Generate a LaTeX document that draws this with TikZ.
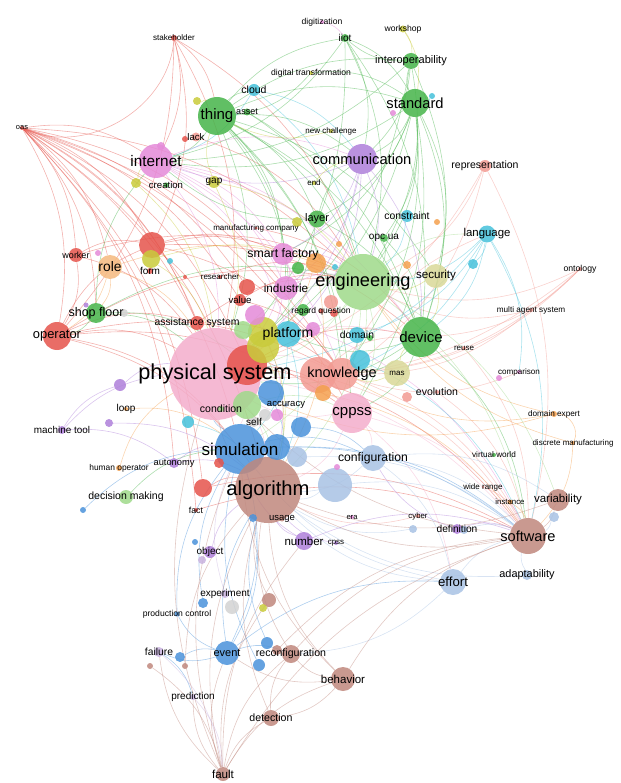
\documentclass[tikz,border=0pt]{standalone}
\usepackage{fontspec}
\setmainfont{Liberation Sans}
\usetikzlibrary{backgrounds}
\definecolor{kwred}      {HTML}{E5534B}
\definecolor{kwsalmon}   {HTML}{F29A92}
\definecolor{kwgreen}    {HTML}{45B449}
\definecolor{kwlgreen}   {HTML}{9FD98A}
\definecolor{kwpurple}   {HTML}{AE7FD9}
\definecolor{kwpink}     {HTML}{E48AD8}
\definecolor{kwlpink}    {HTML}{F3ADCB}
\definecolor{kworange}   {HTML}{F4A04E}
\definecolor{kwpeach}    {HTML}{F5B97E}
\definecolor{kwyellow}   {HTML}{C9CB3B}
\definecolor{kwkhaki}    {HTML}{D9D898}
\definecolor{kwcyan}     {HTML}{45C1DA}
\definecolor{kwblue}     {HTML}{4A92DA}
\definecolor{kwsteel}    {HTML}{A8C2E4}
\definecolor{kwbrown}    {HTML}{BF877D}
\definecolor{kwlav}      {HTML}{C8B2DE}
\definecolor{kwgray}     {HTML}{D2D2D2}
\tikzset{
  kwdot/.style={circle, inner sep=0pt, draw=none, fill=#1, fill opacity=0.85},
  kwlabel/.style={inner sep=0pt, text=black},
  kwedge/.style={draw=#1, draw opacity=0.45, line width=0.6pt},
}
\newcommand{\kwnodes}{
  stakeholder/174/38/6/kwred/stakeholder/8.1,
  oas/22/128/4/kwred/oas/7.5,
  digitization/322/22/4/kwpink/digitization/8.6,
  iiot/345/38/8/kwgreen/iiot/10,
  workshop/403/29/7/kwyellow/workshop/8.6,
  interop/411/61/16/kwgreen/interoperability/11,
  digtrans/311/73/4/kwyellow/digital transformation/8.6,
  cloud/254/90/12/kwcyan/cloud/10.5,
  asset/247/112/7/kwgreen/asset/9,
  thing/217/116/38/kwgreen/thing/15,
  standard/415/103/28/kwgreen/standard/14.7,
  newchall/331/131/4/kwyellow/new challenge/8,
  lack/196/137/9/kwsalmon/lack/9.6,
  internet/156/161/34/kwpink/internet/15.3,
  communication/362/159/30/kwpurple/communication/14.7,
  representation/485/166/12/kwsalmon/representation/10.5,
  creation/166/185/5/kwgreen/creation/9.6,
  gap/214/182/12/kwyellow/gap/10,
  end/314/183/4/kwyellow/end/8,
  mfgcompany/256/228/3/kwred/manufacturing company/8,
  layer/317/219/17/kwgreen/layer/11,
  constraint/407/216/12/kwcyan/constraint/10.4,
  opcua/384/238/8/kwgreen/opc ua/10,
  language/487/234/17/kwcyan/language/11.4,
  ontology/580/269/4/kwsalmon/ontology/8.7,
  worker/76/255/14/kwred/worker/9,
  role/110/267/24/kwpeach/role/13.8,
  form/150/271/6/kwred/form/10,
  researcher/220/277/4/kwred/researcher/8,
  smartfactory/283/254/22/kwpink/smart factory/12.3,
  industrie/286/288/24/kwpink/industrie/11.7,
  value/240/300/12/kwred/value/9.6,
  engineering/363/282/56/kwlgreen/engineering/18.2,
  security/436/276/24/kwkhaki/security/11.6,
  multiagent/531/310/4/kwsalmon/multi agent system/8.2,
  shopfloor/96/313/20/kwgreen/shop floor/12.5,
  operator/57/336/28/kwred/operator/12.9,
  assistance/197/323/14/kwred/assistance system/10.4,
  regardq/321/311/5/kwred/regard question/8.5,
  domain/357/335/16/kwcyan/domain/10.4,
  device/421/337/40/kwgreen/device/15,
  reuse/464/348/4/kwsalmon/reuse/8,
  platform/288/334/26/kwcyan/platform/14,
  physsys/215/374/92/kwlpink/physical system/21.7,
  knowledge/342/374/32/kwsalmon/knowledge/14.5,
  mas/397/373/26/kwkhaki/mas/8,
  evolution/437/392/4/kwsalmon/evolution/10.5,
  comparison/519/372/4/kwpink/comparison/8.1,
  loop/126/409/4/kworange/loop/10,
  condition/221/409/6/kwlgreen/condition/10.5,
  accuracy/286/405/4/kwsteel/accuracy/9.5,
  self/254/422/10/kwgray/self/10,
  cppss/352/413/40/kwlpink/cppss/15,
  domexpert/554/414/6/kworange/domain expert/8.2,
  discmfg/573/443/4/kworange/discrete manufacturing/8,
  machinetool/62/430/8/kwpurple/machine tool/9.9,
  virtworld/494/455/4/kwgreen/virtual world/8.2,
  simulation/240/449/50/kwblue/simulation/17.1,
  configuration/373/458/26/kwsteel/configuration/12.2,
  humanop/119/468/6/kworange/human operator/8.4,
  autonomy/174/463/10/kwpurple/autonomy/9.3,
  widerange/483/487/3/kwsalmon/wide range/8,
  instance/510/502/5/kworange/instance/7.8,
  variability/558/500/22/kwbrown/variability/11.5,
  decision/126/497/14/kwlgreen/decision making/10.5,
  fact/196/510/4/kwred/fact/8.7,
  algorithm/268/490/66/kwbrown/algorithm/20.2,
  usage/282/519/5/kwbrown/usage/9.5,
  era/352/517/4/kwpink/era/7.6,
  cyber/418/516/4/kwsalmon/cyber/7.8,
  definition/457/529/10/kwpurple/definition/10.2,
  software/528/536/36/kwbrown/software/14.6,
  number/304/541/18/kwpurple/number/11.5,
  cpss/336/543/4/kwpurple/cpss/8,
  object/210/552/12/kwpurple/object/10,
  adaptability/527/575/10/kwsteel/adaptability/10.9,
  effort/453/582/26/kwsteel/effort/13.2,
  experiment/225/594/8/kwlav/experiment/10,
  prodcontrol/177/614/5/kwblue/production control/8.6,
  failure/159/652/10/kwlav/failure/10.3,
  event/227/653/24/kwblue/event/11,
  reconfig/291/654/18/kwbrown/reconfiguration/10.6,
  behavior/343/679/24/kwbrown/behavior/11.5,
  prediction/193/697/6/kwlav/prediction/10,
  detection/271/718/16/kwbrown/detection/10.6,
  fault/223/774/14/kwbrown/fault/11.6}
\newcommand{\kwdots}{
  d1/197/101/8/kwyellow, d2/432/96/6/kwcyan, d3/393/113/6/kwpink,
  d4/161/146/8/kwpink, d5/185/139/6/kwred, d6/136/183/10/kwyellow,
  d7/297/222/10/kwyellow, d8/437/222/6/kworange, d9/339/244/6/kworange,
  d10/473/264/10/kwcyan, d11/98/253/6/kwpink, d12/152/245/26/kwred,
  d13/151/259/18/kwyellow, d14/170/261/6/kwcyan, d15/185/277/4/kwred,
  d16/298/268/12/kwgreen, d17/316/263/20/kworange, d18/247/287/16/kwred,
  d19/407/265/8/kworange, d20/335/267/6/kwcyan, d21/124/313/8/kwgray,
  d22/86/305/5/kwpurple, d23/331/302/14/kwsalmon, d24/334/313/8/kwred,
  d25/303/310/12/kwgreen, d26/370/338/6/kwgreen, d27/263/332/30/kwyellow,
  d28/255/315/20/kwpink, d29/313/329/14/kwpink, d30/243/330/18/kwlgreen,
  d31/247/365/40/kwred, d32/263/347/32/kwyellow, d33/318/375/36/kwsalmon,
  d34/323/393/16/kworange, d35/360/360/20/kwcyan, d36/407/397/10/kwsalmon,
  d37/499/378/6/kwpink, d38/109/423/8/kwpurple, d39/120/385/12/kwpurple,
  d40/247/405/28/kwlgreen, d41/188/422/12/kwcyan, d42/271/393/26/kwblue,
  d43/277/415/12/kwpink, d44/265/415/12/kwgray, d45/301/427/20/kwblue,
  d46/277/447/26/kwblue, d47/297/457/20/kwsteel, d48/335/485/34/kwsteel,
  d49/337/467/6/kwpink, d50/219/463/10/kwred, d51/554/517/10/kwsteel,
  d52/83/510/6/kwblue, d53/203/488/18/kwred, d54/253/518/8/kwblue,
  d55/413/529/8/kwsteel, d56/464/530/8/kwsteel, d57/202/560/8/kwlav,
  d58/195/542/6/kwblue, d59/232/607/14/kwgray, d60/203/603/10/kwblue,
  d61/269/600/14/kwbrown, d62/263/608/8/kwyellow, d63/267/643/12/kwblue,
  d64/259/665/12/kwblue, d65/180/657/10/kwblue, d66/150/666/6/kwbrown,
  d67/185/666/6/kwbrown, d68/277/650/10/kwbrown}
\begin{document}
\begin{tikzpicture}[x=1pt,y=-1pt]
  \useasboundingbox (0,0) rectangle (620,783);
  \foreach \nm/\x/\y/\dm/\col/\lab/\fs in \kwnodes
    {\node[kwdot=\col, minimum size=\dm pt] (\nm) at (\x,\y) {};}
  \foreach \nm/\x/\y/\dm/\col in \kwdots
    {\node[kwdot=\col, minimum size=\dm pt] (\nm) at (\x,\y) {};}
  \foreach \nm/\x/\y/\dm/\col/\lab/\fs in \kwnodes
    {\node[kwlabel, font=\fontsize{\fs}{\fs}\selectfont] at (\nm) {\lab};}

  \begin{scope}[on background layer]
  \draw[kwedge=kwred] (oas) to[bend right=55] (stakeholder);
  \foreach \a/\b in {oas/operator, oas/shopfloor, oas/role, oas/assistance,
      oas/physsys, oas/d12, oas/value, oas/fact, oas/algorithm, oas/simulation,
      oas/worker, oas/d53, oas/industrie, oas/engineering, oas/knowledge,
      oas/internet, oas/d31, oas/d18, oas/autonomy, oas/cppss,
      stakeholder/internet, stakeholder/physsys, stakeholder/d12, stakeholder/thing,
      stakeholder/operator, stakeholder/engineering, operator/physsys,
      operator/simulation, operator/algorithm, operator/d12, operator/assistance,
      operator/engineering, operator/knowledge, operator/cppss, worker/physsys,
      worker/d12, worker/operator, worker/engineering, d12/engineering,
      d12/physsys, d12/knowledge, d12/smartfactory, d12/device, assistance/engineering,
      assistance/knowledge, value/knowledge, value/engineering, d53/algorithm,
      d53/software, fact/software, d31/device, d31/software, d31/cppss,
      lack/engineering, researcher/engineering, mfgcompany/device}
    \draw[kwedge=kwred] (\a) to[bend left=20] (\b);
  \foreach \a/\b in {representation/knowledge, representation/engineering,
      representation/software, representation/physsys, ontology/knowledge,
      ontology/engineering, ontology/device, ontology/d33, ontology/physsys,
      multiagent/engineering, multiagent/knowledge, reuse/software,
      comparison/knowledge, evolution/software, widerange/software, d33/software,
      d33/device, knowledge/software, knowledge/language, cyber/algorithm}
    \draw[kwedge=kwsalmon] (\a) to[bend left=20] (\b);
  \foreach \a/\b in {thing/standard, thing/interop, thing/iiot, thing/communication,
      thing/device, thing/engineering, thing/internet, thing/physsys, thing/layer,
      thing/smartfactory, thing/cloud, thing/knowledge, thing/cppss,
      thing/security, thing/platform, thing/industrie,
      standard/device, standard/engineering, standard/interop, standard/communication,
      standard/physsys, standard/opcua, standard/layer, standard/knowledge,
      standard/internet, standard/security, standard/cppss, standard/smartfactory,
      interop/iiot, interop/engineering, interop/device, interop/physsys,
      interop/internet, interop/communication, iiot/physsys, iiot/internet,
      iiot/device, iiot/communication, iiot/standard, iiot/engineering,
      layer/device, layer/physsys, layer/internet, layer/communication,
      shopfloor/engineering, shopfloor/physsys, shopfloor/operator, shopfloor/d31,
      shopfloor/internet, device/physsys, device/knowledge, device/software,
      device/cppss, device/platform, decision/simulation, digtrans/standard,
      digtrans/thing, opcua/device, opcua/engineering, asset/engineering,
      asset/device}
    \draw[kwedge=kwgreen] (\a) to[bend left=20] (\b);
  \foreach \a/\b in {engineering/physsys, engineering/knowledge, engineering/platform,
      engineering/software, engineering/cppss, engineering/algorithm,
      engineering/variability, engineering/language, engineering/simulation,
      d40/algorithm, d40/cppss, d30/engineering}
    \draw[kwedge=kwlgreen] (\a) to[bend left=20] (\b);
  \foreach \a/\b in {communication/internet, communication/physsys,
      communication/engineering, communication/device, communication/smartfactory,
      communication/platform, communication/industrie, machinetool/d39,
      machinetool/autonomy, machinetool/physsys, autonomy/simulation,
      autonomy/algorithm, d39/physsys, d38/algorithm, number/algorithm,
      number/simulation, number/software, definition/software,
      definition/configuration, object/algorithm, cpss/algorithm}
    \draw[kwedge=kwpurple] (\a) to[bend left=20] (\b);
  \foreach \a/\b in {internet/smartfactory, internet/physsys, internet/industrie,
      internet/engineering, internet/platform, internet/device, internet/knowledge,
      internet/communication, smartfactory/industrie, smartfactory/engineering,
      smartfactory/physsys, industrie/physsys, industrie/engineering,
      d28/algorithm, d29/software, digitization/iiot}
    \draw[kwedge=kwpink] (\a) to[bend left=20] (\b);
  \foreach \a/\b in {cppss/physsys, cppss/software, cppss/configuration,
      cppss/algorithm, cppss/effort, physsys/software, physsys/knowledge,
      physsys/algorithm, physsys/simulation, physsys/device}
    \draw[kwedge=kwlpink] (\a) to[bend left=20] (\b);
  \foreach \a/\b in {language/device, language/engineering, language/software,
      language/domain, language/comparison, language/knowledge, language/d10,
      language/physsys, cloud/communication, cloud/internet, cloud/engineering,
      constraint/engineering, domain/knowledge, platform/simulation,
      platform/algorithm, d41/algorithm, d35/software, d2/standard}
    \draw[kwedge=kwcyan] (\a) to[bend left=20] (\b);
  \draw[kwedge=kworange] (domexpert) to[bend left=60] (discmfg);
  \foreach \a/\b in {domexpert/knowledge, domexpert/engineering, domexpert/physsys,
      discmfg/engineering, discmfg/software, role/physsys, role/shopfloor,
      role/operator, role/engineering, humanop/physsys, d17/algorithm,
      d34/software, loop/simulation, d17/physsys, instance/software}
    \draw[kwedge=kworange] (\a) to[bend left=20] (\b);
  \foreach \a/\b in {gap/physsys, gap/thing, gap/engineering, d6/internet,
      d6/physsys, d13/engineering, d13/physsys, security/device, security/engineering,
      mas/device, mas/knowledge, workshop/interop, workshop/standard, d1/thing,
      d27/algorithm, d32/algorithm, end/communication, newchall/thing}
    \draw[kwedge=kwyellow] (\a) to[bend left=20] (\b);
  \foreach \a/\b in {simulation/algorithm, simulation/event, simulation/configuration,
      simulation/physsys, simulation/software, event/reconfig, event/failure,
      event/prodcontrol, event/algorithm, prodcontrol/simulation, failure/prediction,
      d60/simulation, d63/algorithm, d64/simulation, d65/event, d46/software,
      d42/algorithm, event/effort, d45/configuration, d54/event, d52/simulation}
    \draw[kwedge=kwblue] (\a) to[bend left=20] (\b);
  \foreach \a/\b in {configuration/software, configuration/algorithm,
      configuration/effort, configuration/variability, effort/software,
      effort/algorithm, effort/simulation, adaptability/software,
      adaptability/algorithm, d48/software, d48/algorithm, d47/software,
      d55/algorithm, d56/software, d51/software, effort/reconfig}
    \draw[kwedge=kwsteel] (\a) to[bend left=20] (\b);
  \foreach \a/\b in {prediction/fault, experiment/simulation, failure/fault}
    \draw[kwedge=kwlav] (\a) to[bend left=20] (\b);
  \foreach \a/\b in {fault/detection, fault/behavior, fault/event, fault/algorithm,
      fault/reconfig, fault/simulation, fault/prediction, fault/failure,
      fault/software, fault/physsys, fault/d61, fault/number, behavior/software,
      behavior/algorithm, behavior/reconfig, behavior/event, behavior/detection,
      behavior/simulation, detection/algorithm, detection/reconfig,
      software/algorithm, variability/software, variability/algorithm,
      software/physsys, algorithm/physsys, usage/algorithm, reconfig/software,
      reconfig/algorithm, d61/algorithm, d66/fault, d67/algorithm, d68/software}
    \draw[kwedge=kwbrown] (\a) to[bend left=20] (\b);
  \end{scope}
\end{tikzpicture}
\end{document}
